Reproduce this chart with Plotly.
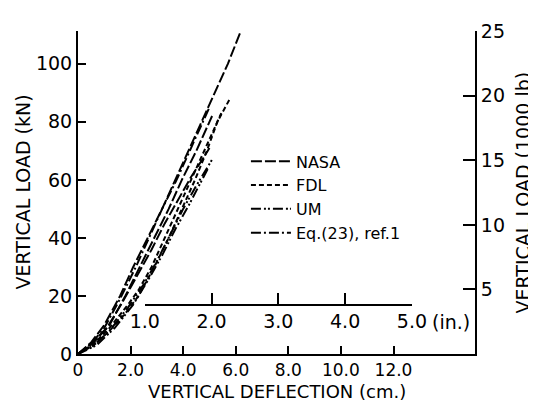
import plotly.graph_objects as go

# ---- data (deflection cm, load kN) ----
nasa1_x = [0, 0.5, 1.0, 1.6, 2.1, 2.65, 3.2, 3.7, 4.2, 4.7, 5.2, 5.7, 6.27]
nasa1_y = [0, 4, 10, 20, 30, 40, 50, 60, 70, 80, 90, 100, 113]
nasa2_x = [0, 0.6, 1.2, 1.8, 2.35, 2.9, 3.45, 3.95, 4.5, 5.0, 5.1]
nasa2_y = [0, 4, 10, 20, 30, 40, 50, 60, 70, 80, 82]
nasa3_x = [0, 0.55, 1.1, 1.7, 2.25, 2.8, 3.3, 3.8, 4.3, 4.8, 5.0]
nasa3_y = [0, 4, 9, 18, 27, 36, 45, 53, 61, 68, 71]
fdl1_x = [0, 0.6, 1.2, 1.8, 2.3, 2.9, 3.45, 3.95, 4.45, 4.9, 5.3, 5.78]
fdl1_y = [0, 3, 8, 14, 20, 30, 40, 50, 60, 70, 80, 88]
fdl2_x = [0, 0.6, 1.2, 1.9, 2.3, 2.8, 3.3, 3.8, 4.3, 4.8, 5.2, 5.45]
fdl2_y = [0, 3.5, 9, 17, 22, 30, 40, 50, 60, 70, 78, 83]
um1_x = [0, 0.6, 1.2, 1.9, 2.5, 3.0, 3.5, 4.0, 4.5, 5.1]
um1_y = [0, 3, 8, 16, 24, 32, 41, 50, 58, 67]
um2_x = [0, 0.7, 1.4, 2.1, 2.7, 3.2, 3.7, 4.2, 4.6, 4.95]
um2_y = [0, 3, 9, 17, 26, 34, 43, 51, 58, 64]
eq_x = [0, 0.5, 1.0, 1.6, 2.2, 2.7, 3.2, 3.75, 4.25, 4.7, 5.0]
eq_y = [0, 3.5, 9, 19, 30, 40, 50, 60, 70, 79, 85]

x_ticks = [0, 2, 4, 6, 8, 10, 12]
x_labels = ["0", "2.0", "4.0", "6.0", "8.0", "10.0", "12.0"]
y_ticks = [0, 20, 40, 60, 80, 100]
y2_ticks = [5, 10, 15, 20, 25]
in_ticks = [1, 2, 3, 4, 5]
in_labels = ["1.0", "2.0", "3.0", "4.0", "5.0"]
CM_PER_IN = 2.54
KN_PER_KLB = 4.448
inch_axis_load = 17  # kN level where the inch scale is drawn

X_MAX = 15.1
Y_MAX = 111.3

FONT = "DejaVu Sans"
dash_nasa = "11px,3px"
dash_fdl = "5px,3px"
dash_um = "10px,3px,2px,2px,2px,3px"
dash_eq = "10px,3px,2px,3px"

series = [
    ("NASA", nasa1_x, nasa1_y, dash_nasa, True),
    ("FDL", fdl1_x, fdl1_y, dash_fdl, True),
    ("UM", um1_x, um1_y, dash_um, True),
    ("Eq.(23), ref.1", eq_x, eq_y, dash_eq, True),
    ("NASA", nasa2_x, nasa2_y, dash_nasa, False),
    ("NASA", nasa3_x, nasa3_y, dash_nasa, False),
    ("FDL", fdl2_x, fdl2_y, dash_fdl, False),
    ("UM", um2_x, um2_y, dash_um, False),
]

fig = go.Figure()
for name, xs, ys, dash, show in series:
    fig.add_trace(go.Scatter(
        x=xs, y=ys, mode="lines", name=name, legendgroup=name, showlegend=show,
        line=dict(color="black", width=2, dash=dash), hoverinfo="skip"))

# invisible traces to activate the secondary axes
fig.add_trace(go.Scatter(x=[0, 0], y=[0, 0], yaxis="y2", mode="markers",
                         marker=dict(opacity=0), showlegend=False, hoverinfo="skip"))
fig.add_trace(go.Scatter(x=[in_ticks[0], in_ticks[-1]], y=[0, 0], xaxis="x3", mode="markers",
                         marker=dict(opacity=0), showlegend=False, hoverinfo="skip"))

axis_common = dict(showgrid=False, zeroline=False, showline=True, linecolor="black",
                   linewidth=2, ticks="inside", tickcolor="black", tickwidth=2,
                   tickfont=dict(family=FONT, size=19, color="black"))

title_font = dict(family=FONT, size=19, color="black")

fig.update_layout(
    width=536, height=404,
    margin=dict(l=70, r=69, t=12, b=58),
    paper_bgcolor="white", plot_bgcolor="rgba(0,0,0,0)",
    font=dict(family=FONT, color="black"),
    xaxis=dict(range=[0, X_MAX], tickvals=x_ticks, ticktext=x_labels, ticklen=8,
               **{**axis_common, "tickfont": dict(family=FONT, size=17, color="black")}),
    yaxis=dict(range=[0, Y_MAX], tickvals=y_ticks, ticklen=8, **axis_common),
    yaxis2=dict(range=[0, Y_MAX / KN_PER_KLB], tickvals=y2_ticks, ticklen=12,
                overlaying="y", side="right", **axis_common),
    xaxis3=dict(range=[in_ticks[0], in_ticks[-1]],
                domain=[in_ticks[0] * CM_PER_IN / X_MAX, in_ticks[-1] * CM_PER_IN / X_MAX],
                anchor="free", position=inch_axis_load / Y_MAX,
                tickvals=in_ticks, ticktext=in_labels, ticklen=11,
                **axis_common),
    legend=dict(x=0.423, y=0.649, xanchor="left", yanchor="top",
                bgcolor="rgba(0,0,0,0)", font=dict(family=FONT, size=16, color="black"),
                itemwidth=40, tracegroupgap=0),
    annotations=[
        dict(text="(in.)", xref="x3", x=in_ticks[-1], xanchor="left", xshift=18,
             yref="paper", y=inch_axis_load / Y_MAX, yanchor="top", yshift=-4,
             showarrow=False, font=dict(family=FONT, size=19, color="black")),
        dict(text="VERTICAL DEFLECTION (cm.)", xref="paper", x=0.5, xanchor="center",
             yref="paper", y=0, yanchor="middle", yshift=-37,
             showarrow=False, font=dict(family=FONT, size=18, color="black")),
        dict(text="VERTICAL LOAD (kN)", xref="paper", x=0, xanchor="center",
             yref="paper", y=0.5, yanchor="middle", xshift=-56, textangle=-90,
             showarrow=False, font=title_font),
        dict(text="VERTICAL LOAD (1000 lb)", xref="paper", x=1, xanchor="center",
             yref="paper", y=0.5, yanchor="middle", xshift=47, textangle=-90,
             showarrow=False, font=title_font),
    ],
)

fig.write_html("out.html")
